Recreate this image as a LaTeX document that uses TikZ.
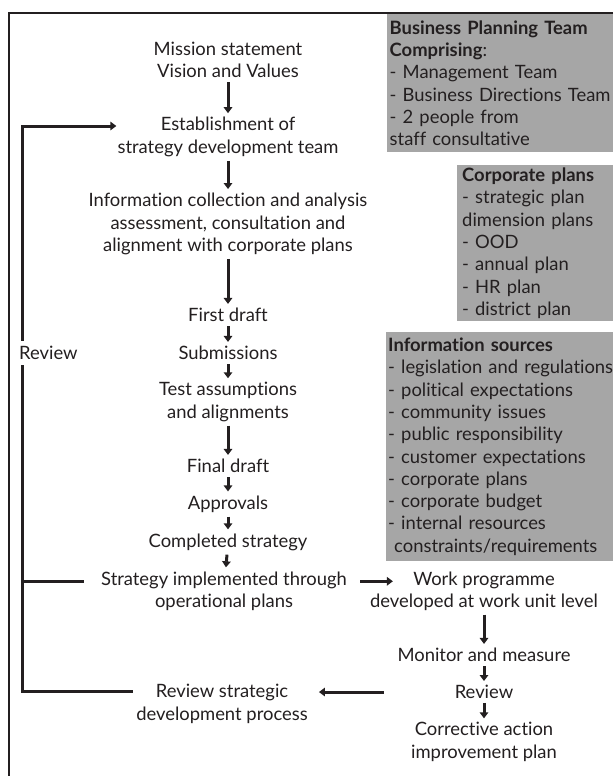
\documentclass[tikz,border=0pt]{standalone}
\usepackage{fontspec}
\setmainfont{Lato}[Ligatures=NoCommon]
\usetikzlibrary{arrows.meta,calc}
\definecolor{ink}{HTML}{231F20}
\definecolor{panel}{HTML}{A6A6A6}
\newcommand{\figfont}{\fontsize{18.4}{22.3}\selectfont}
\begin{document}
\begin{tikzpicture}[x=1pt,y=-1pt,
  every node/.style={text=ink},
  txt/.style={align=center,inner sep=1pt,font=\figfont},
  arr/.style={draw=ink,line width=3pt,-{Triangle[length=6pt,width=8.5pt]},shorten <=3pt,shorten >=3pt},
  loop/.style={draw=ink,line width=3pt},
  frameline/.style={draw=ink,line width=2.6pt},
  panelbox/.style={fill=panel,anchor=north west,align=left,inner sep=0pt,font=\figfont}]
% canvas
\fill[white] (0,0) rectangle (613,776);
\useasboundingbox (0,0) rectangle (613,776);
% outer frame (top and left edges)
\coordinate (frTL) at (9,13);
\coordinate (frTR) at (613,13);
\coordinate (frBL) at (9,776);
\draw[frameline] (frTR) -- (frTL) -- (frBL);

% side panels
\node[panelbox,text width=226pt,minimum height=138pt] (bpt) at (387,14)
  {\hspace*{2.5pt}\textbf{Business Planning Team}\\
   \hspace*{2.5pt}\textbf{Comprising}:\\
   \hspace*{2.5pt}- Management Team\\
   \hspace*{2.5pt}- Business Directions Team\\
   \hspace*{2.5pt}- 2 people from\\
   \hspace*{2.5pt}staff consultative};
\node[panelbox,text width=156pt,minimum height=156pt] (cp) at (457,165)
  {\hspace*{5pt}\textbf{Corporate plans}\\
   \hspace*{5pt}- strategic plan\\
   \hspace*{5pt}dimension plans\\
   \hspace*{5pt}- OOD\\
   \hspace*{5pt}- annual plan\\
   \hspace*{5pt}- HR plan\\
   \hspace*{5pt}- district plan};
\node[panelbox,text width=227pt,minimum height=229pt] (is) at (386,332)
  {\hspace*{2pt}\textbf{Information sources}\\
   \hspace*{2pt}- legislation and regulations\\
   \hspace*{2pt}- political expectations\\
   \hspace*{2pt}- community issues\\
   \hspace*{2pt}- public responsibility\\
   \hspace*{2pt}- customer expectations\\
   \hspace*{2pt}- corporate plans\\
   \hspace*{2pt}- corporate budget\\
   \hspace*{2pt}- internal resources\\
   \hspace*{8pt}constraints/requirements};

% main process column
\node[txt] (mis)   at (228,60)  {Mission statement\\Vision and Values};
\node[txt] (est)   at (228,137) {Establishment of\\strategy development team};
\node[txt] (info)  at (228,224) {Information collection and analysis\\assessment, consultation and\\alignment with corporate plans};
\node[txt] (first) at (228,315) {First draft};
\node[txt] (subm)  at (228,353) {Submissions};
\node[txt] (test)  at (228,402) {Test assumptions\\and alignments};
\node[txt] (final) at (228,466) {Final draft};
\node[txt] (appr)  at (228,504) {Approvals};
\node[txt] (comp)  at (228,542) {Completed strategy};
\node[txt] (strat) at (224,591) {Strategy implemented through\\operational plans};
\node[txt] (rsd)   at (222,704) {Review strategic\\development process};

% operational column
\node[txt] (work)  at (484,591) {Work programme\\developed at work unit level};
\node[txt] (mon)   at (484,655) {Monitor and measure};
\node[txt] (rev)   at (484,692) {Review};
\node[txt] (corr)  at (484,742) {Corrective action\\improvement plan};

% downward flow
\draw[arr] (mis)   -- (est);
\draw[arr] (est)   -- (info);
\draw[arr] (info)  -- (first);
\draw[arr] (first) -- (subm);
\draw[arr] (subm)  -- (test);
\draw[arr] (test)  -- (final);
\draw[arr] (final) -- (appr);
\draw[arr] (appr)  -- (comp);
\draw[arr] (comp)  -- (strat);
\draw[arr] (work)  -- (mon);
\draw[arr] (mon)   -- (rev);
\draw[arr] (rev)   -- (corr);

% cross links
\coordinate (swA) at ($(strat.north east)+(12,11)$);
\coordinate (swB) at ($(work.north west)+(24,11)$);
\draw[arr,shorten <=0pt,shorten >=0pt] (swA) -- (swB);
\coordinate (rrA) at ($(rev.west)+(-70,0)$);
\coordinate (rrB) at ($(rsd.north east)+(10,11)$);
\draw[arr,shorten <=0pt,shorten >=0pt] (rrA) -- (rrA -| rrB);

% review feedback loop
\coordinate (lpTop) at (22.7,126);
\coordinate (lpMid) at (22.7,581);
\coordinate (lpBot) at (22.7,691);
\draw[loop] (lpBot) -- (lpTop);
\draw[arr,shorten <=0pt,shorten >=0pt] ([xshift=-1.5pt]lpTop) -- (lpTop -| est.west);
\draw[loop] ([xshift=-1.5pt]lpMid) -- ($(lpMid -| strat.west)+(-16,0)$);
\draw[loop] ([xshift=-1.5pt]lpBot) -- ($(lpBot -| rsd.west)+(-2,0)$);
\node[fill=white,anchor=west,inner xsep=0pt,inner ysep=5pt,font=\figfont] (revlbl) at (19,353) {Review};
\end{tikzpicture}
\end{document}
